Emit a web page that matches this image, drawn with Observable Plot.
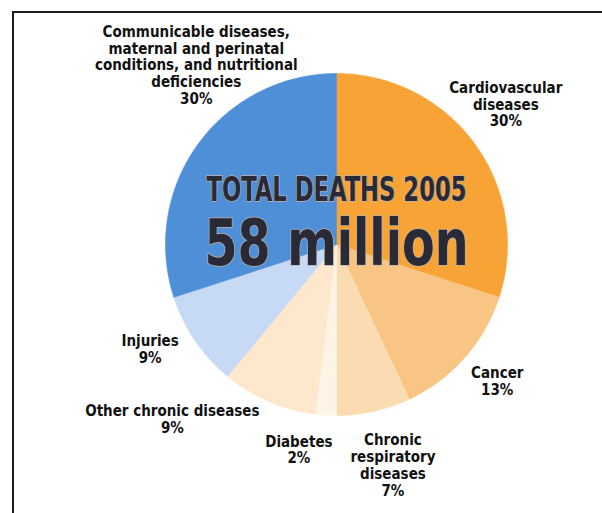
<!DOCTYPE html>
<html>
<head>
<meta charset="utf-8">
<script src="https://cdn.jsdelivr.net/npm/d3@7"></script>
<script src="https://cdn.jsdelivr.net/npm/@observablehq/plot@0.6"></script>
<style>
  html, body { margin: 0; padding: 0; background: #fff; }
  #wrap { position: relative; width: 602px; height: 513px; overflow: hidden; }
  #frame { position: absolute; left: 12px; top: 11px; width: 620px; height: 540px;
           border-top: 2px solid #1c1c1c; border-left: 2px solid #1c1c1c; }
  #chart { position: absolute; left: 0; top: 0; }
</style>
</head>
<body>
<div id="wrap"><div id="frame"></div><div id="chart"></div></div>
<script>
// ---- data ----
const categories = [
  "Cardiovascular diseases",
  "Cancer",
  "Chronic respiratory diseases",
  "Diabetes",
  "Other chronic diseases",
  "Injuries",
  "Communicable diseases, maternal and perinatal conditions, and nutritional deficiencies"
];
const shares = [30, 13, 7, 2, 9, 9, 30];
const labelLines = [
  "Cardiovascular\ndiseases",
  "Cancer",
  "Chronic\nrespiratory\ndiseases",
  "Diabetes",
  "Other chronic diseases",
  "Injuries",
  "Communicable diseases,\nmaternal and perinatal\nconditions, and nutritional\ndeficiencies"
];
const titleLine = "TOTAL DEATHS 2005";
const totalLine = "58 million";

// ---- style / layout ----
const sliceColors = ["#f8a336", "#f9c585", "#fbdcb2", "#fef4e6", "#fde8cd", "#c6d9f5", "#4e8fd8"];
const labelAt = [ // label block centres in pie units (radius = 1)
  [0.99, 0.82], [0.94, -0.80], [0.33, -1.29], [-0.22, -1.20],
  [-0.96, -1.02], [-1.09, -0.61], [-0.82, 1.05]
];
const W = 602, H = 513, cx = 336, cy = 244, R = 171;

// ---- slice outlines from the shares ----
const total = d3.sum(shares);
const pie = d3.pie().sort(null).value(d => d)(shares);
const pts = [];
pie.forEach((p, i) => {
  const name = categories[i];
  pts.push({name, u: 0, v: 0});
  const n = Math.max(2, Math.ceil((p.endAngle - p.startAngle) / 0.01));
  for (let k = 0; k <= n; k++) {
    const a = p.startAngle + (p.endAngle - p.startAngle) * k / n;
    pts.push({name, u: Math.sin(a), v: Math.cos(a)});
  }
  pts.push({name, u: 0, v: 0});
});

const labels = categories.map((c, i) => ({
  name: c,
  text: labelLines[i] + "\n" + d3.format(".0f")(shares[i] / total * 100) + "%",
  u: labelAt[i][0], v: labelAt[i][1]
}));

const font = "'Liberation Sans Narrow', 'DejaVu Sans Condensed', 'Arial Narrow', sans-serif";

const chart = Plot.plot({
  width: W, height: H,
  margin: 0,
  style: {background: "transparent", fontFamily: font},
  x: {domain: [-1, 1], range: [cx - R, cx + R], axis: null},
  y: {domain: [-1, 1], range: [cy + R, cy - R], axis: null},
  color: {domain: categories, range: sliceColors},
  marks: [
    Plot.line(pts, {x: "u", y: "v", z: "name", fill: "name", stroke: "name", strokeWidth: 0.6, curve: "linear"}),
    Plot.text(labels, {x: "u", y: "v", text: "text", lineAnchor: "middle", lineHeight: 1.12,
      fontSize: 15, fontWeight: "bold", fill: "#111", textAnchor: "middle"}),
    Plot.text([titleLine], {x: () => 0, y: () => 0.32, text: d => d, fontSize: 34, fontWeight: "bold",
      fill: "#2a2a36", stroke: "#b9b3ad", strokeWidth: 1.5, className: "title-a"}),
    Plot.text([totalLine], {x: () => 0, y: () => 0.0, text: d => d, fontSize: 64, fontWeight: "bold",
      fill: "#2a2a36", stroke: "#b9b3ad", strokeWidth: 1.5, className: "title-b"})
  ]
});
document.getElementById("chart").appendChild(chart);
// fit the centre headline widths like the original
d3.select(chart).selectAll(".title-a text").attr("textLength", 260).attr("lengthAdjust", "spacingAndGlyphs");
d3.select(chart).selectAll(".title-b text").attr("textLength", 264).attr("lengthAdjust", "spacingAndGlyphs");
</script>
</body>
</html>
